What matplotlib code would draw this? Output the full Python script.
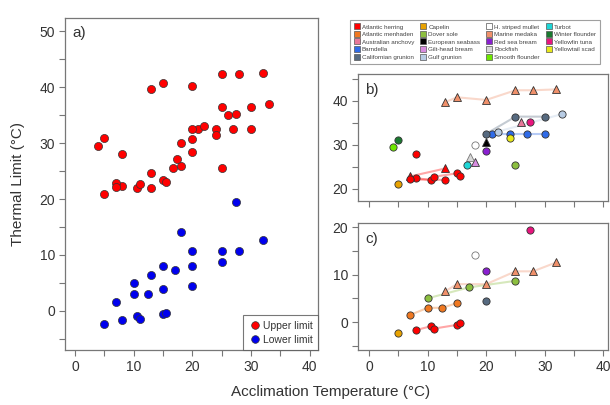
import numpy as np
import matplotlib.pyplot as plt
from matplotlib.lines import Line2D
from matplotlib.ticker import MultipleLocator, FuncFormatter

plt.rcParams['font.family'] = ['Liberation Sans', 'DejaVu Sans']
plt.rcParams['text.color'] = '#333333'
plt.rcParams['xtick.color'] = '#777777'
plt.rcParams['ytick.color'] = '#777777'
plt.rcParams['xtick.labelcolor'] = '#333333'
plt.rcParams['ytick.labelcolor'] = '#333333'

nan = np.nan

# species data: acclimation temp, upper limit, lower limit
herring_x = [8, 10.5, 11, 15, 15.5]
herring_up = [22.4, 22.0, 22.7, 23.5, 23.0]
herring_lo = [-1.7, -0.9, -1.4, -0.6, -0.3]
herring2_x = [7, 13]
herring2_up = [22.8, 24.6]
herring3_x = [7, 13]
herring3_up = [22.1, 22.0]
herring4_x = [8]
herring4_up = [28.0]
menhaden_x = [7, 10, 12.5, 15]
menhaden_lo = [1.5, 3.0, 3.0, 4.0]
anchovy_x = [26]
anchovy_up = [35.1]
barndella_x = [21, 24, 27, 30]
barndella_up = [32.5, 32.5, 32.5, 32.5]
calgrunion_x = [20, 25, 30]
calgrunion_up = [32.5, 36.4, 36.4]
calgrunion_lo = [4.5, nan, nan]
capelin_x = [5]
capelin_up = [21.0]
capelin_lo = [-2.4]
dover_x = [10, 17, 25]
dover_up = [nan, nan, 25.5]
dover_lo = [5.0, 7.3, 8.7]
seabass_x = [20]
seabass_up = [30.7]
gilthead_x = [18]
gilthead_up = [26.0]
gulfgrunion_x = [22, 33]
gulfgrunion_up = [33.0, 37.0]
mullet_x = [18]
mullet_up = [30.0]
mullet_lo = [14.2]
medaka_x = [13, 15, 20, 25, 28, 32]
medaka_up = [39.7, 40.8, 40.2, 42.4, 42.4, 42.6]
medaka_lo = [6.5, 8.0, 8.0, 10.7, 10.7, 12.6]
redbream_x = [20]
redbream_up = [28.5]
redbream_lo = [10.7]
rockfish_x = [17.3]
rockfish_up = [27.2]
smooth_x = [4]
smooth_up = [29.5]
turbot_x = [16.7]
turbot_up = [25.5]
winter_x = [5]
winter_up = [31.0]
yellowfin_x = [27.5]
yellowfin_up = [35.2]
yellowfin_lo = [19.5]
yellowtail_x = [24]
yellowtail_up = [31.5]

species = ['Atlantic herring', 'Atlantic menhaden', 'Australian anchovy', 'Barndella',
           'Californian grunion', 'Capelin', 'Dover sole', 'European seabass',
           'Gilt-head bream', 'Gulf grunion', 'H. striped mullet', 'Marine medaka',
           'Red sea bream', 'Rockfish', 'Smooth flounder', 'Turbot',
           'Winter flounder', 'Yellowfin tuna', 'Yellowtail scad']
colors = ['#ff0000', '#f07820', '#e8789a', '#2f6be8', '#566a80', '#e8a200', '#8cbf3f',
          '#000000', '#d88ce0', '#b8cce4', '#ffffff', '#f0906a', '#8a1fd0', '#d8d8d8',
          '#6ee800', '#1ed6d6', '#1a7a30', '#e8157e', '#e8e81a']
col = dict(zip(species, colors))

# (species, marker, x, upper, lower, connect)
series = [
    ('Atlantic herring', 'o', herring_x, herring_up, herring_lo, True),
    ('Atlantic herring', '^', herring2_x, herring2_up, None, True),
    ('Atlantic herring', 'o', herring3_x, herring3_up, None, True),
    ('Atlantic herring', 'o', herring4_x, herring4_up, None, False),
    ('Atlantic menhaden', 'o', menhaden_x, None, menhaden_lo, True),
    ('Australian anchovy', '^', anchovy_x, anchovy_up, None, False),
    ('Barndella', 'o', barndella_x, barndella_up, None, True),
    ('Californian grunion', 'o', calgrunion_x, calgrunion_up, calgrunion_lo, True),
    ('Capelin', 'o', capelin_x, capelin_up, capelin_lo, False),
    ('Dover sole', 'o', dover_x, dover_up, dover_lo, True),
    ('European seabass', '^', seabass_x, seabass_up, None, False),
    ('Gilt-head bream', '^', gilthead_x, gilthead_up, None, False),
    ('Gulf grunion', 'o', gulfgrunion_x, gulfgrunion_up, None, True),
    ('H. striped mullet', 'o', mullet_x, mullet_up, mullet_lo, False),
    ('Marine medaka', '^', medaka_x, medaka_up, medaka_lo, True),
    ('Red sea bream', 'o', redbream_x, redbream_up, redbream_lo, False),
    ('Rockfish', '^', rockfish_x, rockfish_up, None, False),
    ('Smooth flounder', 'o', smooth_x, smooth_up, None, False),
    ('Turbot', 'o', turbot_x, turbot_up, None, False),
    ('Winter flounder', 'o', winter_x, winter_up, None, False),
    ('Yellowfin tuna', 'o', yellowfin_x, yellowfin_up, yellowfin_lo, False),
    ('Yellowtail scad', 'o', yellowtail_x, yellowtail_up, None, False),
]

fig = plt.figure(figsize=(6.1, 4.05), dpi=100)
W, H = 610, 405


def px_axes(l, t, r, b):
    return fig.add_axes([l / W, 1 - b / H, (r - l) / W, (b - t) / H])


ax_a = px_axes(65, 18, 318, 350)
ax_b = px_axes(358, 74, 608, 201)
ax_c = px_axes(358, 223, 608, 350)

fmt10 = FuncFormatter(lambda v, p: f'{v:g}' if abs(v % 10) < 1e-9 else '')
for ax in (ax_a, ax_b, ax_c):
    for s in ax.spines.values():
        s.set_color('#777777')
        s.set_linewidth(0.9)
    ax.xaxis.set_major_locator(MultipleLocator(5))
    ax.yaxis.set_major_locator(MultipleLocator(5))
    ax.xaxis.set_major_formatter(fmt10)
    ax.yaxis.set_major_formatter(fmt10)
    ax.tick_params(direction='out', length=4, width=0.8, labelsize=10, pad=3)

# panel a: all upper and lower values pooled
up_x, up_y, lo_x, lo_y = [], [], [], []
for name, m, x, up, lo, conn in series:
    if up is not None:
        for xi, yi in zip(x, up):
            if not np.isnan(yi):
                up_x.append(xi)
                up_y.append(yi)
    if lo is not None:
        for xi, yi in zip(x, lo):
            if not np.isnan(yi):
                lo_x.append(xi)
                lo_y.append(yi)

ax_a.scatter(up_x, up_y, s=34, c='#ff0000', edgecolors='#333333', linewidths=0.5, zorder=3)
ax_a.scatter(lo_x, lo_y, s=34, c='#0000ee', edgecolors='#333333', linewidths=0.5, zorder=3)
ax_a.set_xlim(-1.7, 41.4)
ax_a.set_ylim(-7.0, 52.4)
ax_a.text(0.03, 0.975, 'a)', transform=ax_a.transAxes, va='top', fontsize=11)
h_a = [Line2D([], [], ls='', marker='o', ms=5.5, mfc='#ff0000', mec='#333333', mew=0.5),
       Line2D([], [], ls='', marker='o', ms=5.5, mfc='#0000ee', mec='#333333', mew=0.5)]
leg_a = ax_a.legend(h_a, ['Upper limit', 'Lower limit'], loc='lower right',
                    bbox_to_anchor=(1, 0), borderaxespad=0, fontsize=7.5, fancybox=False,
                    edgecolor='#555555', handletextpad=0.2, handlelength=1.2,
                    borderpad=0.5, labelspacing=0.4)
leg_a.get_frame().set_linewidth(0.8)

# panels b and c by species
for ax, which in ((ax_b, 3), (ax_c, 4)):
    for sp in series:
        name, m, x = sp[0], sp[1], sp[2]
        y = sp[which]
        if y is None:
            continue
        c = col[name]
        xa = np.array(x, float)
        ya = np.array(y, float)
        ok = ~np.isnan(ya)
        if sp[5] and ok.sum() > 1:
            ax.plot(xa[ok], ya[ok], color=c if c != '#000000' else '#555555',
                    alpha=0.35, lw=1.5, zorder=2)
        ec = '#777777' if name in ('H. striped mullet', 'Rockfish') else '#333333'
        ax.plot(xa[ok], ya[ok], ls='', marker=m, ms=5.2 if m == 'o' else 5.8,
                mfc=c, mec=ec, mew=0.6, zorder=3)

ax_b.set_xlim(-1.9, 40.8)
ax_b.set_ylim(17.2, 46.1)
ax_b.tick_params(axis='x', labelbottom=False)
ax_b.text(0.03, 0.93, 'b)', transform=ax_b.transAxes, va='top', fontsize=11)
ax_c.set_xlim(-1.9, 40.8)
ax_c.set_ylim(-5.9, 20.9)
ax_c.text(0.03, 0.93, 'c)', transform=ax_c.transAxes, va='top', fontsize=11)

# species legend
handles = [Line2D([], [], ls='', marker='s', ms=4, mfc=col[n],
                  mec='#555555', mew=0.5) for n in species]
leg = fig.legend(handles, species, loc='upper left', bbox_to_anchor=(346.7 / W, 1 - 17.3 / H),
                 ncol=4, fontsize=4.5, fancybox=False, edgecolor='#888888',
                 handletextpad=0.3, handlelength=1.0, columnspacing=0.95,
                 labelspacing=0.35, borderpad=0.6, labelcolor='#444444')
leg.get_frame().set_linewidth(0.8)

fig.text(331 / W, 1 - 392 / H, 'Acclimation Temperature (°C)', ha='center', va='center', fontsize=11)
fig.text(18 / W, 1 - 184 / H, 'Thermal Limit (°C)', ha='center', va='center',
         rotation=90, fontsize=11)

fig.savefig('out.png', dpi=100)
